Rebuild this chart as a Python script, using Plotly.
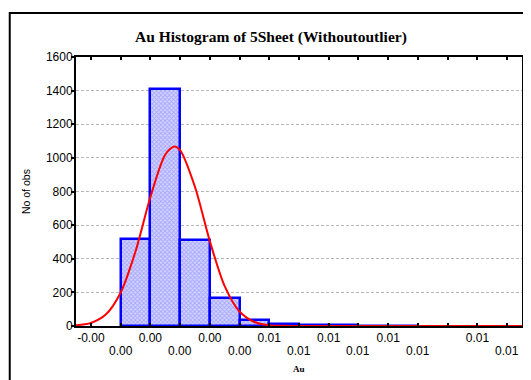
import plotly.graph_objects as go

# ---- data ----
bin_starts = [0.000, 0.001, 0.002, 0.003, 0.004, 0.005, 0.006, 0.007, 0.008, 0.009]
bin_width = 0.001
counts = [516, 1407, 510, 166, 35, 12, 8, 5, 1, 2]

curve_x = [-0.0015, -0.001, -0.0005, 0.0, 0.0005, 0.001, 0.0015, 0.0018, 0.002,
           0.0025, 0.003, 0.0035, 0.004, 0.0045, 0.005, 0.0055, 0.006, 0.007,
           0.008, 0.010, 0.012, 0.0135]
curve_y = [4, 18, 68, 198, 443, 766, 1019, 1068, 1046, 828, 505, 237, 86, 24, 5,
           1, 0, 0, 0, 0, 0, 0]

tick_values = [-0.001, 0.000, 0.001, 0.002, 0.003, 0.004, 0.005, 0.006, 0.007,
               0.008, 0.009, 0.010, 0.011, 0.012, 0.013]
tick_labels = ["-0.00", "0.00", "0.00", "0.00", "0.00", "0.00", "0.01", "0.01",
               "0.01", "0.01", "0.01", "0.01", "", "0.01", "0.01"]

y_ticks = [0, 200, 400, 600, 800, 1000, 1200, 1400, 1600]

title_text = "Au Histogram of 5Sheet (Withoutoutlier)"
x_title = "Au"
y_title = "No of obs"

# ---- layout geometry (page pixels; page body has an 8px margin) ----
OFF = 8
W, H = 531 - OFF, 380 - OFF
PL, PR, PT, PB = 76, 527, 57, 326      # plot area in page pixels
L, T = PL - OFF, PT - OFF
R, B = 531 - PR, 380 - PB
PW, PH = PR - PL, PB - PT


def px_to_paper_x(px):
    return (px - PL) / PW


def px_to_paper_y(py):
    return (PB - py) / PH


# split labels into two staggered rows (alternating among non-empty labels)
upper, lower = [], []
k = 0
for v, t in zip(tick_values, tick_labels):
    if t == "":
        upper.append("")
        lower.append("")
        continue
    if k % 2 == 0:
        upper.append(t)
        lower.append("")
    else:
        upper.append("")
        lower.append(t)
    k += 1

fig = go.Figure()

fig.add_trace(go.Bar(
    x=[s + bin_width / 2 for s in bin_starts],
    y=counts,
    width=[bin_width] * len(bin_starts),
    marker=dict(
        color="#c0c0ff",
        line=dict(color="#0000ff", width=2.5),
        pattern=dict(shape="x", size=3, solidity=0.5, fgcolor="#7878ff", bgcolor="#d4d4ff"),
    ),
    hoverinfo="skip",
    showlegend=False,
))

fig.add_trace(go.Scatter(
    x=curve_x, y=curve_y, mode="lines",
    line=dict(color="#ff0000", width=2, shape="spline", smoothing=0.8),
    hoverinfo="skip", showlegend=False,
))

font_sans = "Liberation Sans, Arial, sans-serif"
font_serif = "Liberation Serif, Times New Roman, serif"

fig.update_xaxes(
    range=[-0.0015, 0.0135],
    tickmode="array", tickvals=tick_values, ticktext=upper,
    ticks="inside", ticklen=3, tickwidth=1.5, tickcolor="black",
    showline=True, linewidth=2, linecolor="black", mirror="ticks",
    showgrid=False, zeroline=False,
    tickfont=dict(family=font_sans, size=12, color="black"),
    ticklabelstandoff=0,
)
fig.update_yaxes(
    range=[0, 1600],
    tickmode="array", tickvals=y_ticks,
    ticks="outside", ticklen=3, tickwidth=1.5, tickcolor="black",
    showline=True, linewidth=2, linecolor="black", mirror="ticks",
    showgrid=True, gridcolor="#b8b8b8", griddash="3px,2px", gridwidth=1,
    zeroline=False,
    tickfont=dict(family=font_sans, size=12, color="black"),
    ticklabelstandoff=-4,
)

annotations = []
for v, t in zip(tick_values, lower):
    if t:
        annotations.append(dict(
            x=v, xref="x", y=0, yref="paper", yanchor="top", yshift=-16,
            text=t, showarrow=False,
            font=dict(family=font_sans, size=12, color="black"),
        ))
annotations.append(dict(
    x=0.5, xref="paper", y=px_to_paper_y(369), yref="paper",
    yanchor="middle", text="<b>" + x_title + "</b>", showarrow=False,
    font=dict(family=font_serif, size=9, color="black"),
))
annotations.append(dict(
    x=px_to_paper_x(25), xref="paper", y=0.5, yref="paper",
    xanchor="center", yanchor="middle", textangle=-90,
    text=y_title, showarrow=False,
    font=dict(family=font_sans, size=10.5, color="black"),
))
annotations.append(dict(
    x=px_to_paper_x(273.5), xref="paper", y=px_to_paper_y(37), yref="paper",
    xanchor="center", yanchor="middle",
    text="<b>" + title_text + "</b>", showarrow=False,
    font=dict(family=font_serif, size=15.5, color="black"),
))

fig.update_layout(
    width=W, height=H,
    margin=dict(l=L, r=R, t=T, b=B, pad=0),
    paper_bgcolor="white", plot_bgcolor="white",
    bargap=0,
    annotations=annotations,
    shapes=[dict(
        type="rect", xref="paper", yref="paper",
        x0=px_to_paper_x(9), x1=px_to_paper_x(545),
        y0=px_to_paper_y(395), y1=px_to_paper_y(13),
        line=dict(color="black", width=2), fillcolor="rgba(0,0,0,0)",
    )],
)

fig.write_html("out.html")
